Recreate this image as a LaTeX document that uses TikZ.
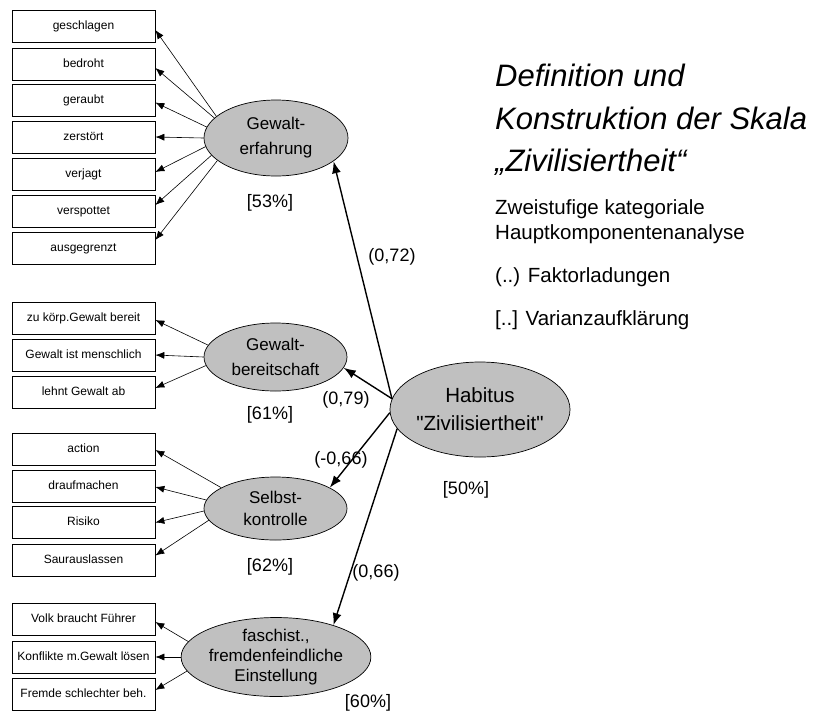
\documentclass[tikz,border=0pt]{standalone}
\usepackage{fontspec}
\setmainfont{Liberation Sans}
\usetikzlibrary{shapes.geometric,arrows.meta}
\definecolor{ellgray}{RGB}{192,192,192}
\begin{document}
\begin{tikzpicture}[x=1pt,y=-1pt,
  item/.style={draw,line width=0.7pt,fill=white,minimum width=143pt,minimum height=32pt,inner sep=0pt,text height=8.6pt,text depth=2.5pt,font=\fontsize{12}{14}\selectfont},
  factor/.style={ellipse,draw,line width=0.7pt,fill=ellgray,inner sep=0pt,align=center},
  lbl/.style={inner sep=0pt,font=\fontsize{18}{20}\selectfont},
  arr/.style={-{Latex[length=9pt,width=7pt]},line width=0.6pt},
  bigarr/.style={-{Latex[length=12pt,width=9pt]},line width=1.4pt},
  head/.style={anchor=base west,inner sep=0pt,font=\fontsize{31}{36}\selectfont\itshape},
  note/.style={anchor=base west,inner sep=0pt,font=\fontsize{20.5}{24}\selectfont}]
\useasboundingbox (0,0) rectangle (822,713);

% Gewalterfahrung
\node[item] (a1) at (83.5,26) {geschlagen};
\node[item] (a2) at (83.5,64) {bedroht};
\node[item] (a3) at (83.5,100.5) {geraubt};
\node[item] (a4) at (83.5,137) {zerstört};
\node[item] (a5) at (83.5,174) {verjagt};
\node[item] (a6) at (83.5,211) {verspottet};
\node[item] (a7) at (83.5,248) {ausgegrenzt};
\node[factor,minimum width=144pt,minimum height=76pt,font=\fontsize{17}{25}\selectfont] (GE) at (276,138) {Gewalt-\\erfahrung};

% Gewaltbereitschaft
\node[item] (b1) at (83.5,318) {zu körp.Gewalt bereit};
\node[item] (b2) at (83.5,355) {Gewalt ist menschlich};
\node[item] (b3) at (83.5,392) {lehnt Gewalt ab};
\node[factor,minimum width=143pt,minimum height=68pt,font=\fontsize{17}{25}\selectfont] (GB) at (275.5,357) {Gewalt-\\bereitschaft};

% Selbstkontrolle
\node[item] (c1) at (83.5,449) {action};
\node[item] (c2) at (83.5,486) {draufmachen};
\node[item] (c3) at (83.5,522.5) {Risiko};
\node[item] (c4) at (83.5,560.5) {Saurauslassen};
\node[factor,minimum width=143pt,minimum height=63pt,font=\fontsize{17}{22}\selectfont] (SK) at (275.5,508.5) {Selbst-\\kontrolle};

% faschist.
\node[item] (d1) at (83.5,619) {Volk braucht Führer};
\node[item] (d2) at (83.5,657) {Konflikte m.Gewalt lösen};
\node[item] (d3) at (83.5,694) {Fremde schlechter beh.};
\node[factor,minimum width=142pt,minimum height=70pt,font=\fontsize{17}{20}\selectfont] (FE) at (276,657) {faschist.,\\fremdenfeindliche\\Einstellung};

% Habitus
\node[factor,minimum width=162pt,minimum height=95pt,font=\fontsize{20.5}{28}\selectfont] (H) at (480,409.5) {Habitus\\\textquotedbl Zivilisiertheit\textquotedbl};

% item arrows
\draw[arr] (GE.160) -- ([yshift=-4pt]a1.east);
\draw[arr] (GE.162) -- ([yshift=-4pt]a2.east);
\draw[arr] (GE.171) -- ([yshift=-2pt]a3.east);
\draw[arr] (GE.180) -- (a4.east);
\draw[arr] (GE.187) -- ([yshift=2pt]a5.east);
\draw[arr] (GE.195) -- ([yshift=6pt]a6.east);
\draw[arr] (GE.201) -- ([yshift=8pt]a7.east);

\draw[arr] (GB.170) -- ([yshift=-2pt]b1.east);
\draw[arr] (GB.180) -- (b2.east);
\draw[arr] (GB.187) -- ([yshift=4pt]b3.east);

\draw[arr] (SK.159) -- ([yshift=-1pt]c1.east);
\draw[arr] (SK.173) -- ([yshift=-1pt]c2.east);
\draw[arr] (SK.182) -- (c3.east);
\draw[arr] (SK.190) -- ([yshift=5pt]c4.east);

\draw[arr] (FE.170) -- ([yshift=-3pt]d1.east);
\draw[arr] (FE.180) -- (d2.east);
\draw[arr] (FE.189) -- ([yshift=4pt]d3.east);

% factor arrows
\draw[bigarr] (H.173) -- (GE.-22);
\draw[bigarr] (H.173) -- (GB.-9.5);
\draw[bigarr] (H.182) -- (SK.21);
\draw[bigarr] (H.193) -- (FE.29);

% labels
\node[lbl] (p1) at (270,203) {[53\%]};
\node[lbl] (p2) at (270,415) {[61\%]};
\node[lbl] (p3) at (270,567) {[62\%]};
\node[lbl] (p4) at (368,703) {[60\%]};
\node[lbl] (p5) at (466,490) {[50\%]};
\node[lbl] (l1) at (392,257) {(0,72)};
\node[lbl] (l2) at (346,400) {(0,79)};
\node[lbl] (l3) at (341,460) {(-0,66)};
\node[lbl] (l4) at (376,573) {(0,66)};

% heading and legend
\node[head] (t1) at (495,86) {Definition und};
\node[head] (t2) at (495,129) {Konstruktion der Skala};
\node[head] (t3) at (495,171) {„Zivilisiertheit“};
\node[note] (n1) at (495,214) {Zweistufige kategoriale};
\node[note] (n2) at (495,239) {Hauptkomponentenanalyse};
\node[note] (n3) at (495,282) {(..) Faktorladungen};
\node[note] (n4) at (495,325) {[..] Varianzaufklärung};
\end{tikzpicture}
\end{document}
